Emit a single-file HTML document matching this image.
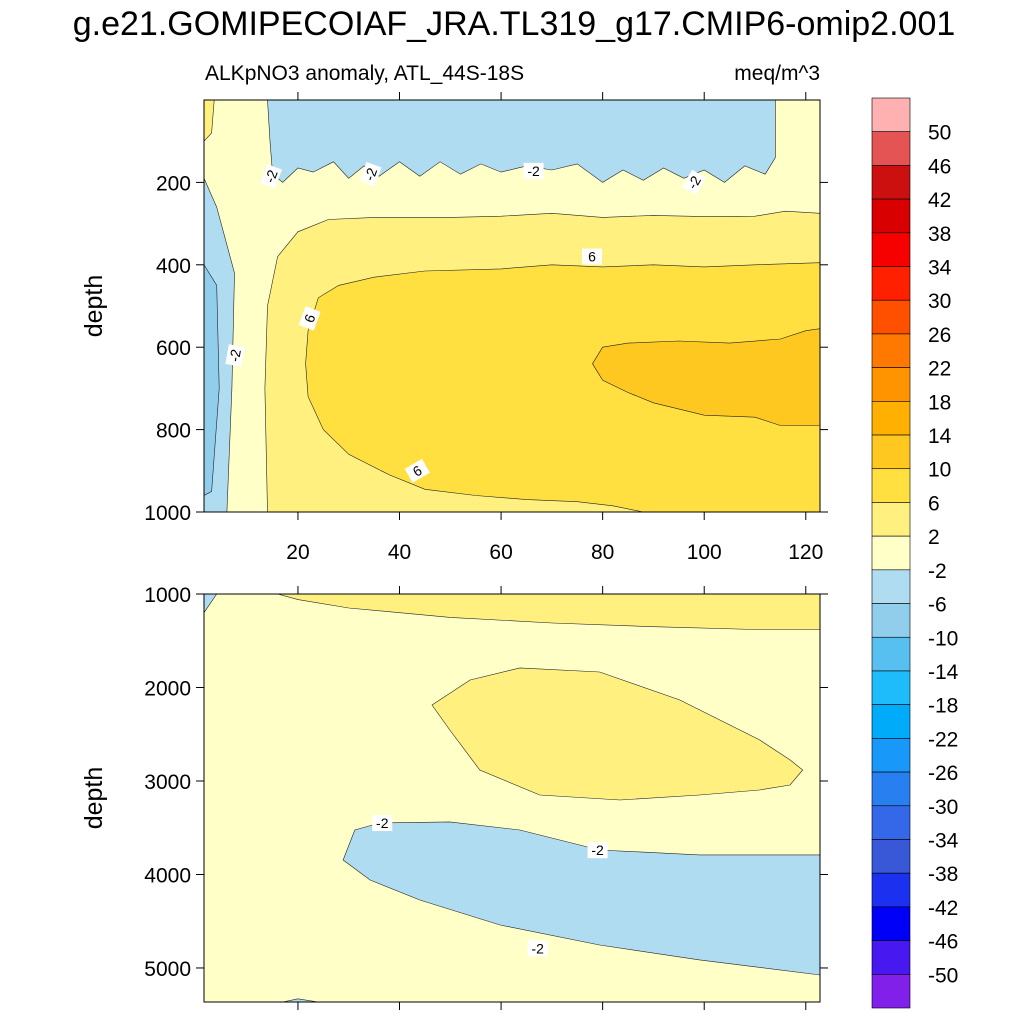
<!DOCTYPE html>
<html><head><meta charset="utf-8"><style>
html,body{margin:0;padding:0;background:#fff;}
svg{display:block;font-family:"Liberation Sans",sans-serif;}
</style></head><body>
<svg id="chart" width="1024" height="1024" viewBox="0 0 1024 1024" xmlns="http://www.w3.org/2000/svg">
<text x="514" y="35" font-size="34" text-anchor="middle">g.e21.GOMIPECOIAF_JRA.TL319_g17.CMIP6-omip2.001</text>
<text x="205" y="80" font-size="21">ALKpNO3 anomaly, ATL_44S-18S</text>
<text x="820" y="80" font-size="21" text-anchor="end">meq/m^3</text>
<g id="top"></g>
<g id="bot"></g>
<g id="cbar"></g>
</svg>
<script>
const levelLabels=[50,46,42,38,34,30,26,22,18,14,10,6,2,-2,-6,-10,-14,-18,-22,-26,-30,-34,-38,-42,-46,-50];
const levelColors=["#ffb0b0","#e45454","#cc1010","#d80000","#f60000","#ff2000","#ff5000","#ff7800","#ff9400","#ffb000","#ffc820","#ffe040","#fff080","#ffffc8","#b0dcf2","#90ceec","#58c0f0","#1ebcfa","#00acfa","#1898f8","#2880f0","#3468e8","#3858d8","#1c30f0","#0000f8","#4818f0","#8020e8"];
const xTicks=[20,40,60,80,100,120];
const topTicks=[200,400,600,800,1000];
const botTicks=[1000,2000,3000,4000,5000];
// contour regions: [fill level index, points [x, depth]]
const topRegions=[
 [14,[[14,0],[14.5,100],[15,180],[17,200],[20,165],[23,175],[27,150],[30,190],[33,160],[36,185],[40,150],[44,185],[48,150],[52,180],[56,155],[60,175],[65,160],[70,170],[75,155],[80,200],[84,170],[88,195],[92,165],[96,190],[100,170],[104,200],[108,160],[112,180],[114,140],[114,0]]],
 [14,[[1.5,190],[4,260],[7.5,420],[7,700],[6,1000],[1.5,1000]]],
 [15,[[1.5,400],[4,450],[4.5,700],[3,950],[1.5,960]]],
 [12,[[1.5,0],[3.5,0],[3,80],[1.5,100]]],
 [12,[[14,1000],[13.5,700],[14,500],[16,380],[20,320],[26,290],[35,285],[50,285],[60,282],[70,275],[80,285],[90,280],[100,283],[110,282],[116,270],[122.8,275],[122.8,1000]]],
 [11,[[22,560],[24,480],[28,450],[35,430],[45,415],[60,410],[70,400],[80,405],[90,400],[100,405],[110,400],[122.8,395],[122.8,1000],[88,1000],[82,985],[75,975],[65,970],[55,960],[45,945],[38,910],[30,860],[25,800],[22,720],[21.5,640]]],
 [10,[[78,640],[80,600],[85,590],[95,585],[105,590],[115,580],[120,560],[122.8,555],[122.8,790],[115,790],[110,770],[100,765],[90,735],[85,710],[80,680]]]
];
const botRegions=[
 [12,[[16,1000],[20,1060],[30,1150],[50,1250],[70,1310],[90,1350],[110,1380],[122.8,1380],[122.8,1000]]],
 [14,[[1.5,1000],[4,1000],[1.5,1200]]],
 [12,[[46.4,2187],[53.9,1920],[63.7,1790],[79.4,1834],[95.2,2134],[110.9,2561],[116.9,2775],[119.4,2882],[116.9,3043],[110.9,3096],[99.1,3150],[83.4,3203],[67.6,3150],[55.8,2882],[49.9,2455]]],
 [14,[[28.9,3845],[31.2,3524],[36.1,3449],[49.9,3438],[63.7,3524],[79.4,3738],[99.1,3791],[122.8,3791],[122.8,5075],[99.1,4914],[79.4,4754],[59.8,4540],[44,4273],[34.2,4059]]],
 [14,[[17,5364],[20,5330],[24,5364]]]
];
const topLabels=[["-2",14.7,185,-70],["-2",34.3,180,-70],["-2",66.4,172,0],["-2",98,200,-60],["-2",7.6,620,-80],["6",22.3,530,-70],["6",77.9,380,0],["6",43.5,900,-30]];
const botLabels=[["-2",36.6,3450,0],["-2",79,3740,0],["-2",67.2,4790,0]];

const NS="http://www.w3.org/2000/svg";
const X0=204,X1=820,XD0=1.5,XD1=122.8;
const sx=v=>X0+(v-XD0)*(X1-X0)/(XD1-XD0);
function mk(tag,attrs,parent){const e=document.createElementNS(NS,tag);for(const k in attrs)e.setAttribute(k,attrs[k]);parent.appendChild(e);return e;}
function panel(g,top,bot,d0,d1,regions,labels,ticks,showX,name){
 const sy=d=>top+(d-d0)*(bot-top)/(d1-d0);
 const bg=mk("rect",{x:X0,y:top,width:X1-X0,height:bot-top,fill:levelColors[13]},g);
 
 
 const cp=mk("clipPath",{id:name+"clip"},g);mk("rect",{x:X0,y:top,width:X1-X0,height:bot-top},cp);
 const cg=mk("g",{"clip-path":"url(#"+name+"clip)"},g);
 regions.forEach((r,i)=>{
  const p=mk("polygon",{points:r[1].map(q=>sx(q[0]).toFixed(1)+","+sy(q[1]).toFixed(1)).join(" "),fill:levelColors[r[0]],stroke:"#222","stroke-width":0.6},cg);
  
  
 });
 labels.forEach(l=>{
  const lg=mk("g",{transform:`translate(${sx(l[1])},${sy(l[2])}) rotate(${l[3]})`},g);
  
  
  mk("rect",{x:-10,y:-8,width:20,height:16,fill:"#fff"},lg);
  const t=mk("text",{x:0,y:5,"font-size":14,"text-anchor":"middle"},lg);t.textContent=l[0];
 });
 const fr=mk("rect",{x:X0,y:top,width:X1-X0,height:bot-top,fill:"none",stroke:"#000","stroke-width":1},g);
 
 
 ticks.forEach(t=>{
  const y=sy(t);
  mk("line",{x1:X0-8,y1:y,x2:X0,y2:y,stroke:"#000"},g);
  mk("line",{x1:X1,y1:y,x2:X1+8,y2:y,stroke:"#000"},g);
  const tx=mk("text",{x:X0-13,y:y+8,"font-size":21,"text-anchor":"end"},g);tx.textContent=t;
  
  
 });
 xTicks.forEach(t=>{
  const x=sx(t);
  mk("line",{x1:x,y1:bot,x2:x,y2:bot+8,stroke:"#000"},g);
  mk("line",{x1:x,y1:top-8,x2:x,y2:top,stroke:"#000"},g);
  if(showX){const tx=mk("text",{x:x,y:bot+47,"font-size":21,"text-anchor":"middle"},g);tx.textContent=t;
   
   }
 });
 const yl=mk("text",{x:0,y:0,"font-size":25,"text-anchor":"middle",transform:`translate(102,${(top+bot)/2}) rotate(-90)`},g);
 yl.textContent="depth";
 
 
}
panel(document.getElementById("top"),100,512,0,1000,topRegions,topLabels,topTicks,true,"top");
panel(document.getElementById("bot"),594,1002,1000,5364,botRegions,botLabels,botTicks,false,"bottom");
const cb=document.getElementById("cbar");
const CT=98,CB=1008,h=(CB-CT)/levelColors.length;
levelColors.forEach((c,i)=>{
 const r=mk("rect",{x:872,y:CT+i*h,width:38,height:h,fill:c,stroke:"#000","stroke-width":0.6},cb);
 
 
});
levelLabels.forEach((v,i)=>{
 const t=mk("text",{x:928,y:CT+(i+1)*h+8,"font-size":21},cb);t.textContent=v;
 
 
});
</script>
</body></html>
